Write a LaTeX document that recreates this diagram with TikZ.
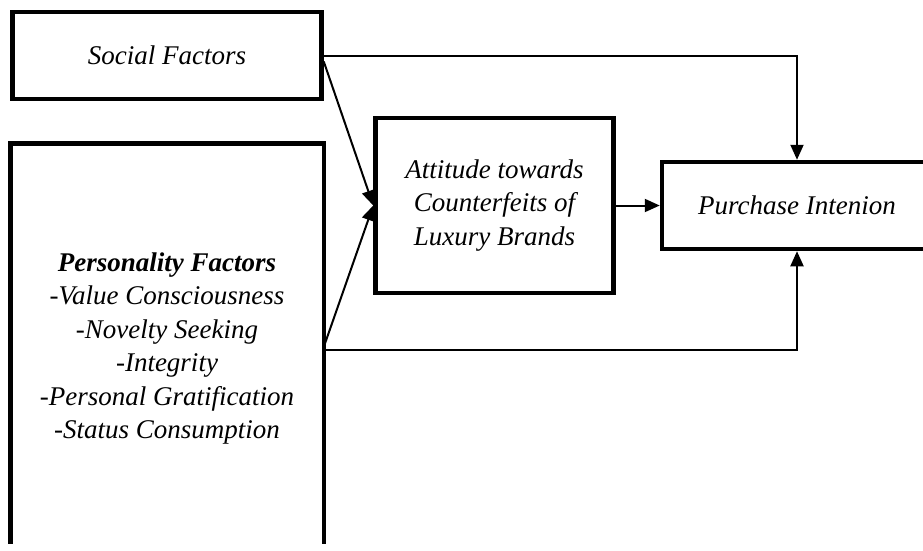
\documentclass[tikz,border=0pt]{standalone}
\usepackage{fontspec}
\setmainfont{Liberation Serif}
\usetikzlibrary{arrows.meta,calc}
\begin{document}
\begin{tikzpicture}[x=1pt,y=-1pt,
  box/.style={draw,line width=4.5pt,inner sep=0pt,align=center,
    font=\fontsize{27}{33.5}\selectfont\itshape},
  conn/.style={line width=2pt,-{Triangle[length=15pt,width=13pt]}}]
\useasboundingbox (0,0) rectangle (923,550);
\clip (0,0) rectangle (923,550);
\fill[white] (0,0) rectangle (923,550);
\node[box,minimum width=309pt,minimum height=87pt] (soc) at (167,55.5) {Social Factors};
\node[box,draw=none,minimum width=309pt,minimum height=406pt] (pers) at (167,348.5)
  {\textbf{Personality Factors}\\-Value Consciousness\\-Novelty Seeking\\-Integrity\\-Personal Gratification\\-Status Consumption};
\draw[line width=4.5pt] ($(pers.south west)+(0,-10)$) |- (pers.north east) -- ($(pers.south east)+(0,-10)$);
\node[box,minimum width=238pt,minimum height=175pt] (att) at (494.5,205.5)
  {Attitude towards\\Counterfeits of\\Luxury Brands};
\node[box,minimum width=270pt,minimum height=87pt] (pi) at (797,205.5) {Purchase Intenion};
\draw[conn] (soc.east) -| (pi.north);
\draw[conn] ([yshift=-6pt]soc.east) -- (att.west);
\draw[conn] ([yshift=1.5pt]pers.east) -- (att.west);
\draw[conn] ([yshift=-1.5pt]pers.east) -| (pi.south);
\draw[conn] (att.east) -- (att.east -| pi.west);
\end{tikzpicture}
\end{document}
